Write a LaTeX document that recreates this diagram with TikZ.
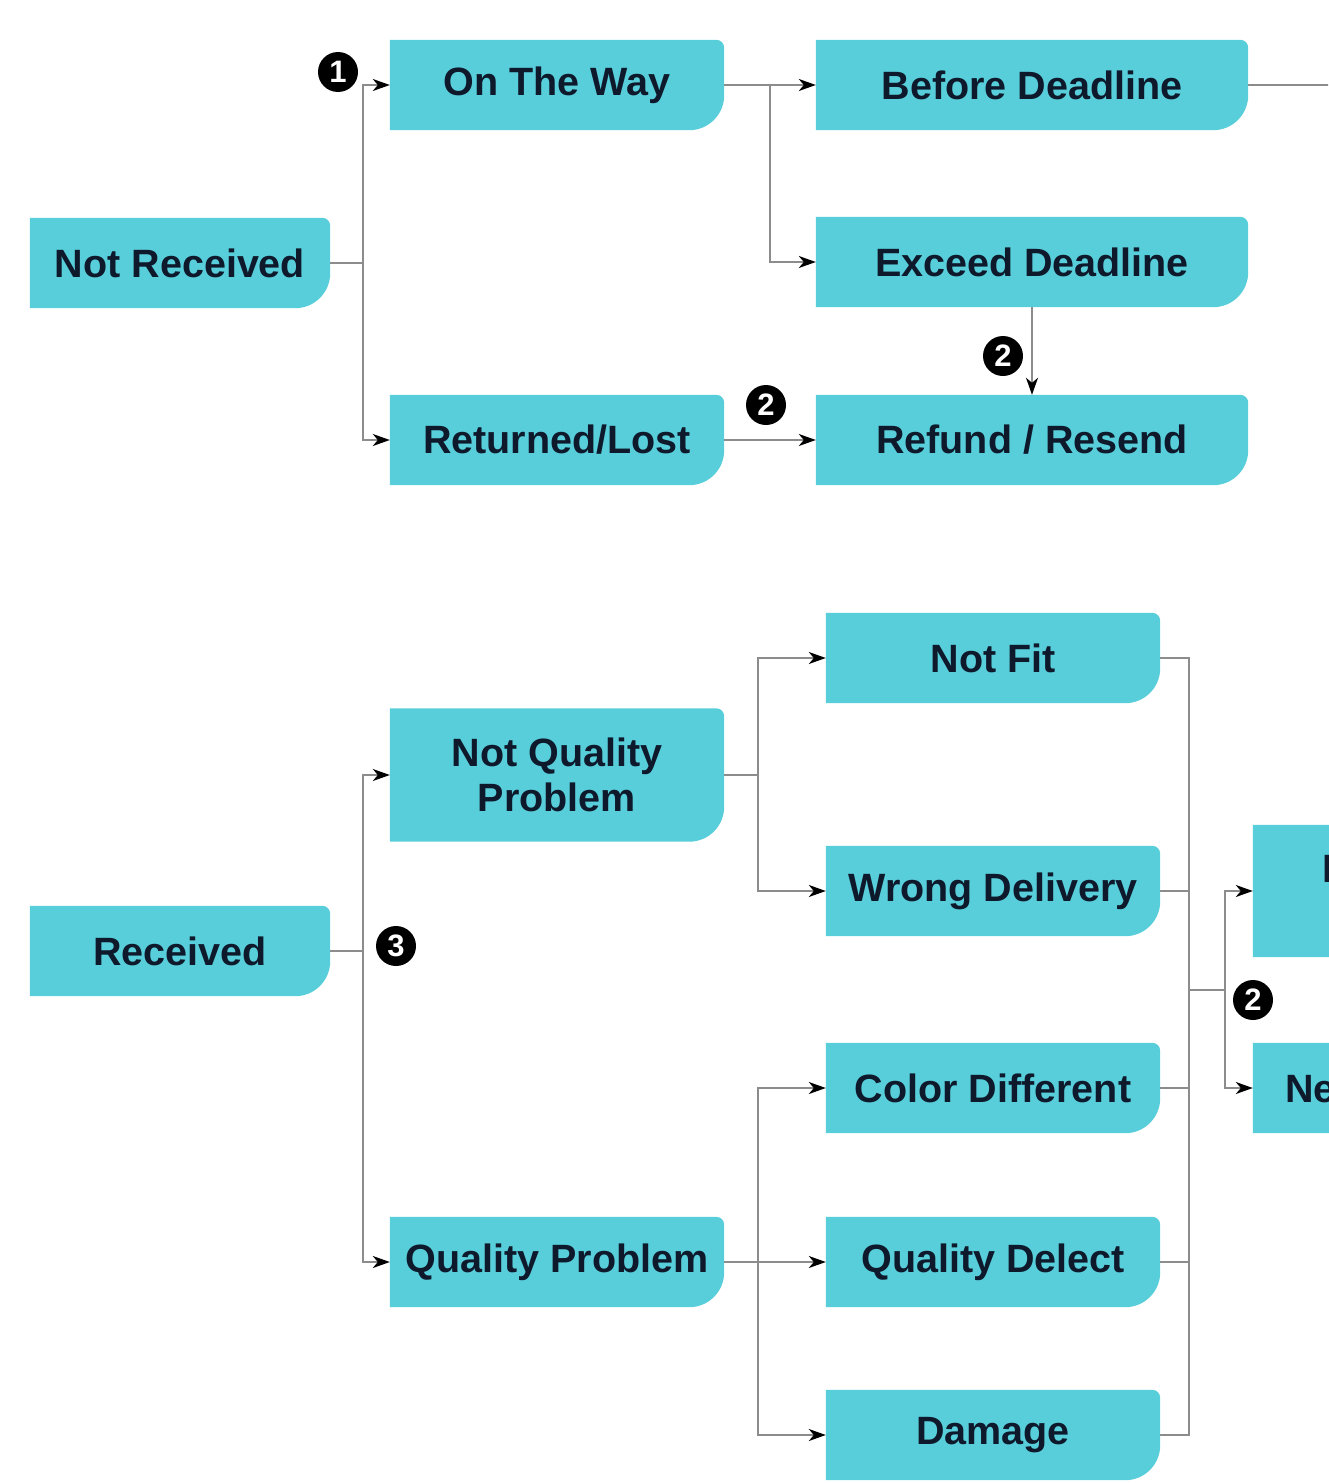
\documentclass[tikz,border=0pt]{standalone}
\usepackage{fontspec}
\setmainfont{Liberation Sans}
\usetikzlibrary{arrows.meta,backgrounds}
\definecolor{boxc}{HTML}{58CEDB}
\definecolor{txtc}{HTML}{0E1A2B}
\definecolor{lnc}{HTML}{8C8C8C}
\newcommand\cbox[7][]{%
  \node[bx, minimum width=#5pt, minimum height=#6pt, #1] (#2) at (#3,#4) {#7};
  \begin{pgfonlayer}{background}
    \fill[boxc] (#2.south west) -- (#2.north west) -- ([xshift=-8pt]#2.north east)
      arc[start angle=90,end angle=0,radius=8pt] -- ([yshift=35pt]#2.south east)
      arc[start angle=0,end angle=-90,radius=35pt] -- cycle;
  \end{pgfonlayer}}
\tikzset{
  bx/.style={inner sep=0pt, align=center, text=txtc,
    font=\bfseries\fontsize{39.5}{45}\selectfont},
  ln/.style={draw=lnc, line width=1.4pt},
  arr/.style={ln, -{Stealth[length=17pt,width=12pt,inset=5pt,color=black]}},
  num/.style={circle, fill=black, text=white, inner sep=0pt, minimum size=40pt,
    font=\bfseries\fontsize{31}{31}\selectfont},
}
\begin{document}
\begin{tikzpicture}[x=1pt,y=1pt]
\useasboundingbox (0,0) rectangle (1328,-1483);
\clip (0,0) rectangle (1328,-1483);
% top section
\cbox{NR}{180}{-263}{300}{90}{Not Received}
\cbox{OTW}{557}{-85}{334}{90}{On The Way}
\cbox{RL}{557}{-440}{334}{90}{Returned/Lost}
\cbox{BD}{1032}{-85}{432}{90}{Before Deadline}
\cbox{ED}{1032}{-262}{432}{90}{Exceed Deadline}
\cbox{RR}{1032}{-440}{432}{90}{Refund / Resend}
% bottom section
\cbox{RC}{180}{-951}{300}{90}{Received}
\cbox{NQP}{557}{-775}{334}{133}{Not Quality\\Problem}
\cbox{QP}{557}{-1262}{334}{90}{Quality Problem}
\cbox{NF}{993}{-658}{334}{90}{Not Fit}
\cbox{WD}{993}{-891}{334}{90}{Wrong Delivery}
\cbox{CD}{993}{-1088}{334}{90}{Color Different}
\cbox{QD}{993}{-1262}{334}{90}{Quality Delect}
\cbox{DM}{993}{-1435}{334}{90}{Damage}
\cbox[text width=196pt, align=left]{RA}{1420}{-891}{334}{132}{Exchange\\ \hspace*{40pt}Return}
\cbox[text width=270pt, align=left]{RB}{1420}{-1088}{334}{90}{New Product}
% connectors top
\coordinate (j1) at (363,-263);
\draw[ln] (NR.east) -- (j1);
\draw[arr] (j1) |- (OTW.west);
\draw[arr] (j1) |- (RL.west);
\coordinate (j2) at (770,-85);
\draw[arr] (OTW.east) -- (BD.west);
\draw[arr] (j2) |- (ED.west);
\coordinate (bdout) at (1340,-85);
\draw[ln] (BD.east) -- (bdout);
\draw[arr] (ED.south) -- (RR.north);
\draw[arr] (RL.east) -- (RR.west);
% connectors bottom
\coordinate (j3) at (363,-951);
\draw[ln] (RC.east) -- (j3);
\draw[arr] (j3) |- (NQP.west);
\draw[arr] (j3) |- (QP.west);
\coordinate (j4) at (758,-775);
\draw[ln] (NQP.east) -- (j4);
\draw[arr] (j4) |- (NF.west);
\draw[arr] (j4) |- (WD.west);
\coordinate (j5) at (758,-1262);
\draw[arr] (QP.east) -- (QD.west);
\draw[arr] (j5) |- (CD.west);
\draw[arr] (j5) |- (DM.west);
\coordinate (jt) at (1189,-658);
\coordinate (jb) at (1189,-1435);
\coordinate (jm) at (1189,-990);
\coordinate (j6) at (1225,-990);
\draw[ln] (NF.east) -- (jt) -- (jb) -- (DM.east);
\draw[ln] (WD.east) -- (WD.east -| jt);
\draw[ln] (CD.east) -- (CD.east -| jt);
\draw[ln] (QD.east) -- (QD.east -| jt);
\draw[ln] (jm) -- (j6);
\draw[arr] (j6) |- (RA.west);
\draw[arr] (j6) |- (RB.west);
% numbers
\node[num] (n1) at (338,-72) {1};
\node[num] (n2a) at (1003,-356) {2};
\node[num] (n2b) at (766,-405) {2};
\node[num] (n3) at (396,-946) {3};
\node[num] (n2c) at (1253,-1000) {2};
\end{tikzpicture}
\end{document}
